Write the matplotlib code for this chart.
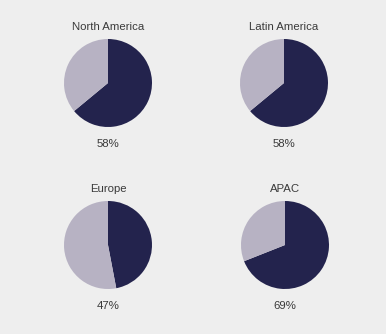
import matplotlib
matplotlib.use("Agg")
import matplotlib.pyplot as plt

regions = ["North America", "Latin America", "Europe", "APAC"]
# share of the dark slice as drawn in the pies
dark_share = [64, 64, 47, 69]
pct_labels = ["58%", "58%", "47%", "69%"]

W, H = 386, 334
dark = "#23234d"
light = "#b7b2c3"
bg = "#eeeeee"
txt = "#3a3a3a"
plt.rcParams['font.family'] = ['Liberation Sans', 'DejaVu Sans']

fig = plt.figure(figsize=(W / 100, H / 100), dpi=100, facecolor=bg)

# pie centres (px from top-left), radius in px
centres = [(108, 83), (284, 83), (108, 245), (285, 245)]
r = 44

for name, share, lab, (cx, cy) in zip(regions, dark_share, pct_labels, centres):
    ax = fig.add_axes([(cx - r) / W, 1 - (cy + r) / H, 2 * r / W, 2 * r / H])
    ax.pie([share, 100 - share], colors=[dark, light], startangle=90,
           counterclock=False, radius=1)
    ax.set_xlim(-1, 1)
    ax.set_ylim(-1, 1)
    ax.set_aspect("auto")
    ax.axis("off")
    fig.text(cx / W, 1 - (cy - 56) / H, name, ha="center", va="center",
             fontsize=8.2, color=txt)
    fig.text(cx / W, 1 - (cy + 61) / H, lab, ha="center", va="center",
             fontsize=8.2, color=txt)

fig.savefig("out.png", dpi=100, facecolor=bg)
